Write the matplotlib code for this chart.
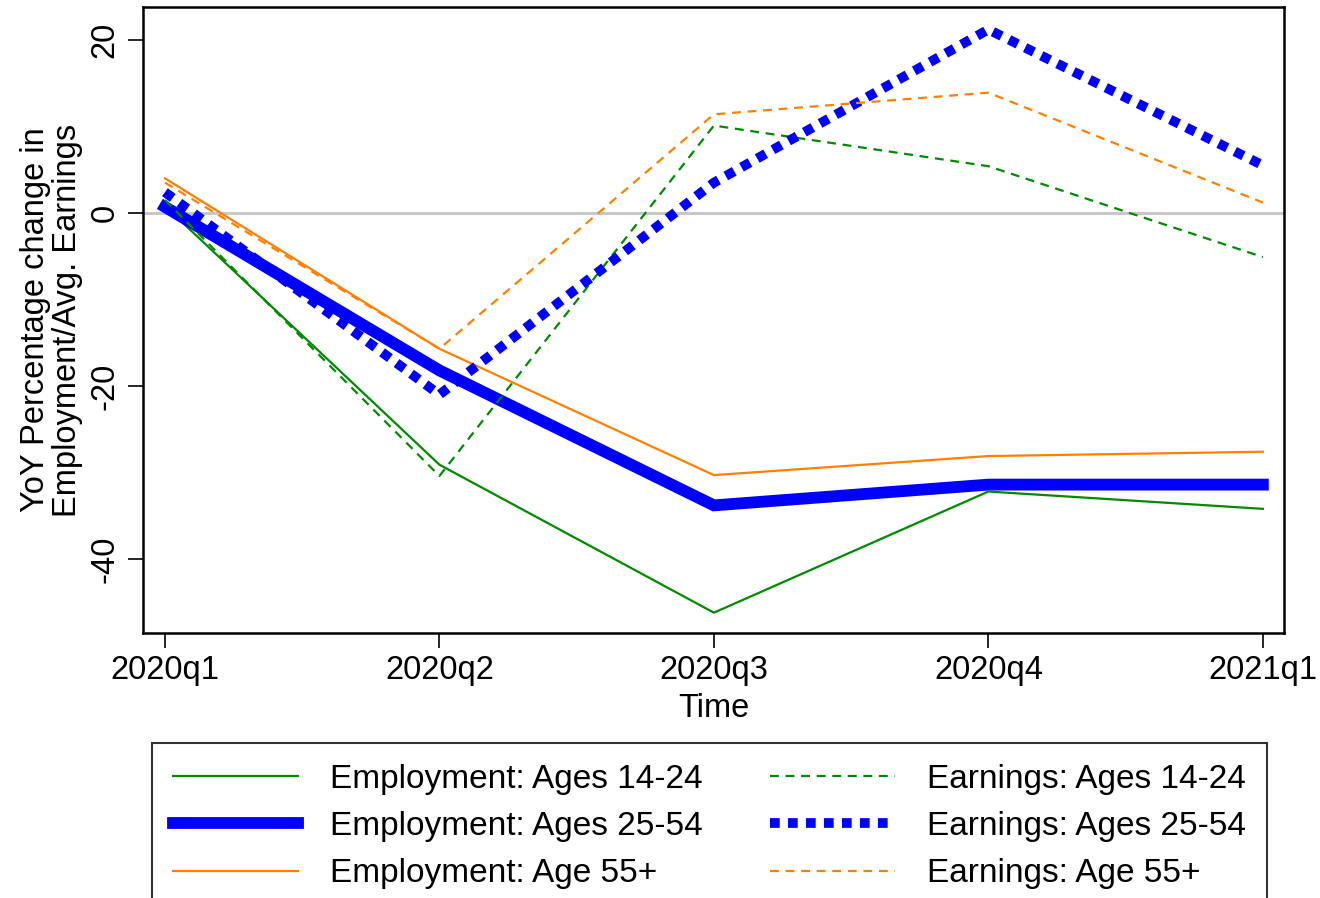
import matplotlib
matplotlib.use("Agg")
import matplotlib.pyplot as plt

plt.rcParams['font.family'] = ['Liberation Sans', 'DejaVu Sans']

quarters = ["2020q1", "2020q2", "2020q3", "2020q4", "2021q1"]
emp_14_24 = [0.8, -29.1, -46.2, -32.2, -34.2]
emp_25_54 = [0.7, -18.2, -33.8, -31.4, -31.4]
emp_55 = [4.0, -15.7, -30.3, -28.1, -27.6]
earn_14_24 = [1.5, -30.4, 10.1, 5.4, -5.1]
earn_25_54 = [2.4, -21.0, 3.5, 21.2, 5.5]
earn_55 = [3.5, -15.7, 11.4, 13.9, 1.2]

GREEN = "#008a00"
BLUE = "#0000ff"
ORANGE = "#ff8000"

fig = plt.figure(figsize=(13.2, 8.98), dpi=100)
ax = fig.add_axes([143/1320, 1-633/898, (1284-143)/1320, (633-7)/898])

x = list(range(len(quarters)))
ax.axhline(0, color="#c8c8c8", lw=2.2, zorder=1)

l1, = ax.plot(x, emp_14_24, color=GREEN, lw=1.6, label="Employment: Ages 14-24", zorder=3)
l2, = ax.plot(x, emp_25_54, color=BLUE, lw=8.5, label="Employment: Ages 25-54", zorder=3,
              solid_joinstyle="miter")
l3, = ax.plot(x, emp_55, color=ORANGE, lw=1.6, label="Employment: Age 55+", zorder=3)
l4, = ax.plot(x, earn_14_24, color=GREEN, lw=1.6, dashes=(4, 3), label="Earnings: Ages 14-24", zorder=3)
l5, = ax.plot(x, earn_25_54, color=BLUE, lw=7, dashes=(1.0, 0.85), dash_capstyle="butt",
              label="Earnings: Ages 25-54", zorder=3)
l6, = ax.plot(x, earn_55, color=ORANGE, lw=1.6, dashes=(4, 3), label="Earnings: Age 55+", zorder=3)

ax.set_xlim(-0.08, 4.077)
ax.set_ylim(-48.55, 23.8)
ax.set_xticks(x)
ax.set_xticklabels(quarters, fontsize=23.5)
ax.set_yticks([-40, -20, 0, 20])
ax.set_yticklabels(["-40", "-20", "0", "20"], fontsize=23.5, rotation=90, va="center")
ax.tick_params(axis="both", direction="out", length=11, width=1.2, pad=5)
for s in ax.spines.values():
    s.set_linewidth(1.8)
ax.set_xlabel("Time", fontsize=23.5, labelpad=5)
ax.set_ylabel("YoY Percentage change in\nEmployment/Avg. Earnings", fontsize=23.5, labelpad=5,
              linespacing=1.05)

leg = fig.legend(handles=[l1, l2, l3, l4, l5, l6], ncol=2, loc="upper left",
                 bbox_to_anchor=(152/1320, 1-743/898), fontsize=24, frameon=True,
                 fancybox=False, edgecolor="black", handlelength=3.75, handletextpad=0.96,
                 columnspacing=2.04, labelspacing=0.49, borderpad=0.62, borderaxespad=0)
leg.get_frame().set_linewidth(1.5)

fig.savefig("out.png", dpi=100)
